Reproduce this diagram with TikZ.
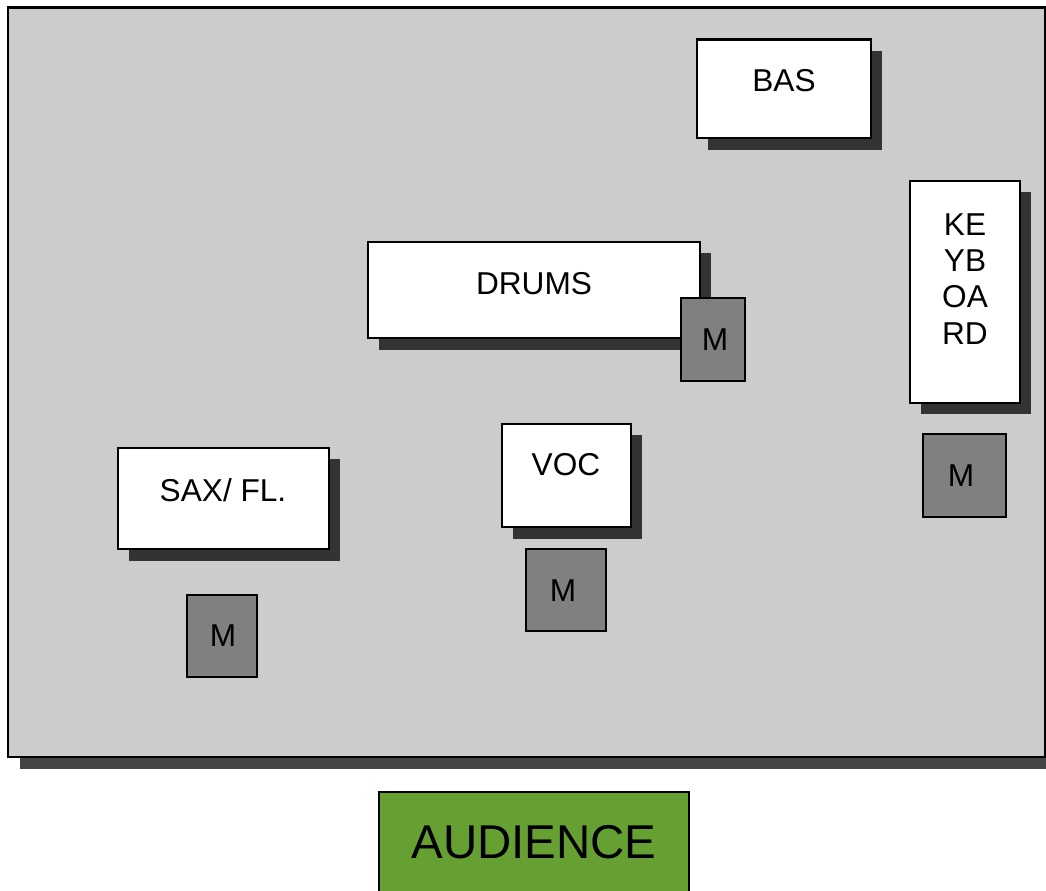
\documentclass[tikz,border=0pt]{standalone}
\usepackage{fontspec}
\setmainfont{Liberation Sans}
\definecolor{stagegray}{HTML}{CCCCCC}
\definecolor{stageshadow}{HTML}{444444}
\definecolor{boxshadow}{HTML}{333333}
\definecolor{micgray}{HTML}{808080}
\definecolor{audgreen}{HTML}{66A032}
\begin{document}
\begin{tikzpicture}[x=0.02cm,y=-0.02cm,
  stagebox/.style={draw=black, line width=1.7pt, fill=stagegray},
  whitebox/.style={draw=black, line width=1.7pt, fill=white},
  shadowbox/.style={fill=boxshadow},
  micbox/.style={draw=black, line width=1.7pt, fill=micgray},
  lbl/.style={font=\fontsize{18}{21.5}\selectfont, inner sep=0pt, align=center},
  audbox/.style={draw=black, line width=1.7pt, fill=audgreen}]
\useasboundingbox (0,0) rectangle (1046,891);
\clip (0,0) rectangle (1046,891);
% stage
\fill[stageshadow] (20,20) rectangle (1060,769);
\draw[stagebox] (8,8) rectangle (1045,757);
% BAS
\fill[shadowbox] (708,51) rectangle (882,150);
\draw[whitebox] (697,40) rectangle (871,138);
\node[lbl] (bas) at (784,81) {BAS};
% KEYBOARD
\fill[shadowbox] (921,192) rectangle (1031,414);
\draw[whitebox] (910,181) rectangle (1020,403);
\node[lbl, font=\fontsize{18}{20.6}\selectfont] (kb) at (965,279) {KE\\YB\\OA\\RD};
% DRUMS
\fill[shadowbox] (379,253) rectangle (711,350);
\draw[whitebox] (368,242) rectangle (700,338);
\node[lbl] (drums) at (534,284) {DRUMS};
% VOC
\fill[shadowbox] (513,435) rectangle (642,539);
\draw[whitebox] (502,424) rectangle (631,527);
\node[lbl] (voc) at (566,465) {VOC};
% SAX
\fill[shadowbox] (129,459) rectangle (340,561);
\draw[whitebox] (118,448) rectangle (329,549);
\node[lbl] (sax) at (223,490) {SAX/ FL.};
% mics
\draw[micbox] (681,298) rectangle (745,381);
\node[lbl] (m1) at (715,340) {M};
\draw[micbox] (526,549) rectangle (606,631);
\node[lbl] (m2) at (563,591) {M};
\draw[micbox] (187,595) rectangle (257,677);
\node[lbl] (m3) at (223,636) {M};
\draw[micbox] (923,434) rectangle (1006,517);
\node[lbl] (m4) at (961,476) {M};
% audience
\draw[audbox] (379,792) rectangle (689,905);
\node[lbl, font=\fontsize{27}{32}\selectfont] (aud) at (534,842) {AUDIENCE};
\end{tikzpicture}
\end{document}
